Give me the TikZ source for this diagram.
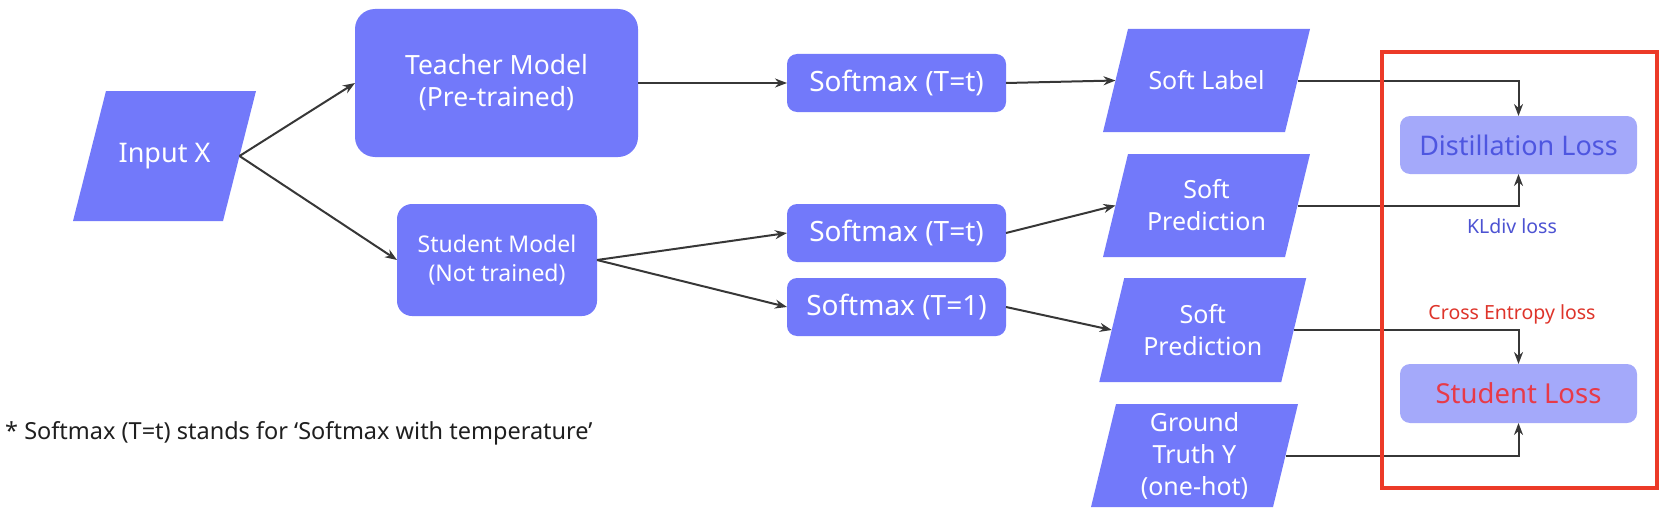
\documentclass[tikz,border=0pt]{standalone}
\usepackage{fontspec}
\setmainfont{Noto Sans}
\usetikzlibrary{arrows.meta,backgrounds}
\definecolor{nodefill}{RGB}{114,121,250}
\definecolor{lossfill}{RGB}{164,169,250}
\definecolor{linegray}{RGB}{55,55,55}
\definecolor{distext}{RGB}{78,86,224}
\definecolor{kltext}{RGB}{76,82,210}
\definecolor{sltext}{RGB}{232,58,72}
\definecolor{cetext}{RGB}{222,52,42}
\definecolor{framered}{RGB}{236,58,40}
% fill a parallelogram behind a named rectangle node; #2 = half of the slant
\newcommand\parafill[2]{%
  \begin{pgfonlayer}{background}
    \fill[nodefill] ([xshift=-#2]#1.south west) -- ([xshift=-#2]#1.south east)
      -- ([xshift=#2]#1.north east) -- ([xshift=#2]#1.north west) -- cycle;
  \end{pgfonlayer}}
\begin{document}
\begin{tikzpicture}[x=1pt,y=-1pt,
  base/.style={fill=nodefill,text=white,align=center,inner sep=0pt,outer sep=0pt},
  rbox/.style={base,rectangle,rounded corners=#1},
  paratext/.style={text=white,align=center,inner sep=0pt,outer sep=0pt,
    minimum width=182pt,minimum height=103pt},
  conn/.style={draw=linegray,line width=2pt,-{Stealth[length=12pt,width=9pt]}},
  fbig/.style={font=\fontsize{27pt}{34pt}\selectfont},
  fmid/.style={font=\fontsize{25pt}{32pt}\selectfont},
  fsmall/.style={font=\fontsize{19.5pt}{24pt}\selectfont},
]
\useasboundingbox (0,0) rectangle (1669,519);

% nodes
\node[paratext,fbig,minimum width=150pt,minimum height=130pt] (inx) at (164.5,156) {Input X};
\parafill{inx}{16.5pt}
\node[rbox=20pt,font=\fontsize{26.5pt}{32pt}\selectfont,minimum width=283pt,minimum height=148pt] (teacher) at (496.5,83) {Teacher Model\\(Pre-trained)};
\node[rbox=15pt,font=\fontsize{23pt}{29pt}\selectfont,minimum width=200pt,minimum height=112pt] (student) at (497,260) {Student Model\\(Not trained)};

\node[rbox=10pt,font=\fontsize{28pt}{34pt}\selectfont,minimum width=219pt,minimum height=58pt] (sm1) at (896.5,83) {Softmax (T=t)};
\node[rbox=10pt,font=\fontsize{28pt}{34pt}\selectfont,minimum width=219pt,minimum height=58pt] (sm2) at (896.5,233) {Softmax (T=t)};
\node[rbox=10pt,font=\fontsize{28pt}{34pt}\selectfont,minimum width=219pt,minimum height=58pt] (sm3) at (896.5,307) {Softmax (T=1)};

\node[paratext,fmid] (slabel) at (1206.5,80.5) {Soft Label};
\parafill{slabel}{12.5pt}
\node[paratext,fmid] (spred1) at (1206.5,205.5) {Soft\\Prediction};
\parafill{spred1}{12.5pt}
\node[paratext,fmid,minimum height=104pt] (spred2) at (1202.75,330) {Soft\\Prediction};
\parafill{spred2}{12.5pt}
\node[paratext,fmid] (gt) at (1194.5,455.5) {Ground\\Truth Y\\(one-hot)};
\parafill{gt}{12.5pt}

\node[rbox=10pt,fill=lossfill,text=distext,fbig,minimum width=237pt,minimum height=58pt] (dloss) at (1518.5,145) {Distillation Loss};
\node[rbox=10pt,fill=lossfill,text=sltext,font=\fontsize{27.5pt}{34pt}\selectfont,minimum width=237pt,minimum height=59pt] (sloss) at (1518.5,393.5) {Student Loss};

\node[fsmall,text=kltext] (kl) at (1512,226) {KLdiv loss};
\node[fsmall,text=cetext] (ce) at (1512,314) {Cross Entropy loss};

\node[anchor=west,inner sep=0pt,font=\fontsize{23.5pt}{29pt}\selectfont,text=black!88] (note) at (5,433) {* Softmax (T=t) stands for ‘Softmax with temperature’};

% connectors
\draw[conn] (inx.east) -- (teacher.west);
\draw[conn] (inx.east) -- (student.west);
\draw[conn] (teacher.east) -- (sm1.west);
\draw[conn] (student.east) -- (sm2.west);
\draw[conn] (student.east) -- (sm3.west);
\draw[conn] (sm1.east) -- (slabel.west);
\draw[conn] (sm2.east) -- (spred1.west);
\draw[conn] (sm3.east) -- (spred2.west);
\draw[conn] (slabel.east) -| (dloss.north);
\draw[conn] (spred1.east) -| (dloss.south);
\draw[conn] (spred2.east) -| (sloss.north);
\draw[conn] (gt.east) -| (sloss.south);

% red frame
\node[draw=framered,line width=3.5pt,inner sep=0pt,minimum width=275pt,minimum height=436pt] (frame) at (1519.5,270) {};
\end{tikzpicture}
\end{document}
